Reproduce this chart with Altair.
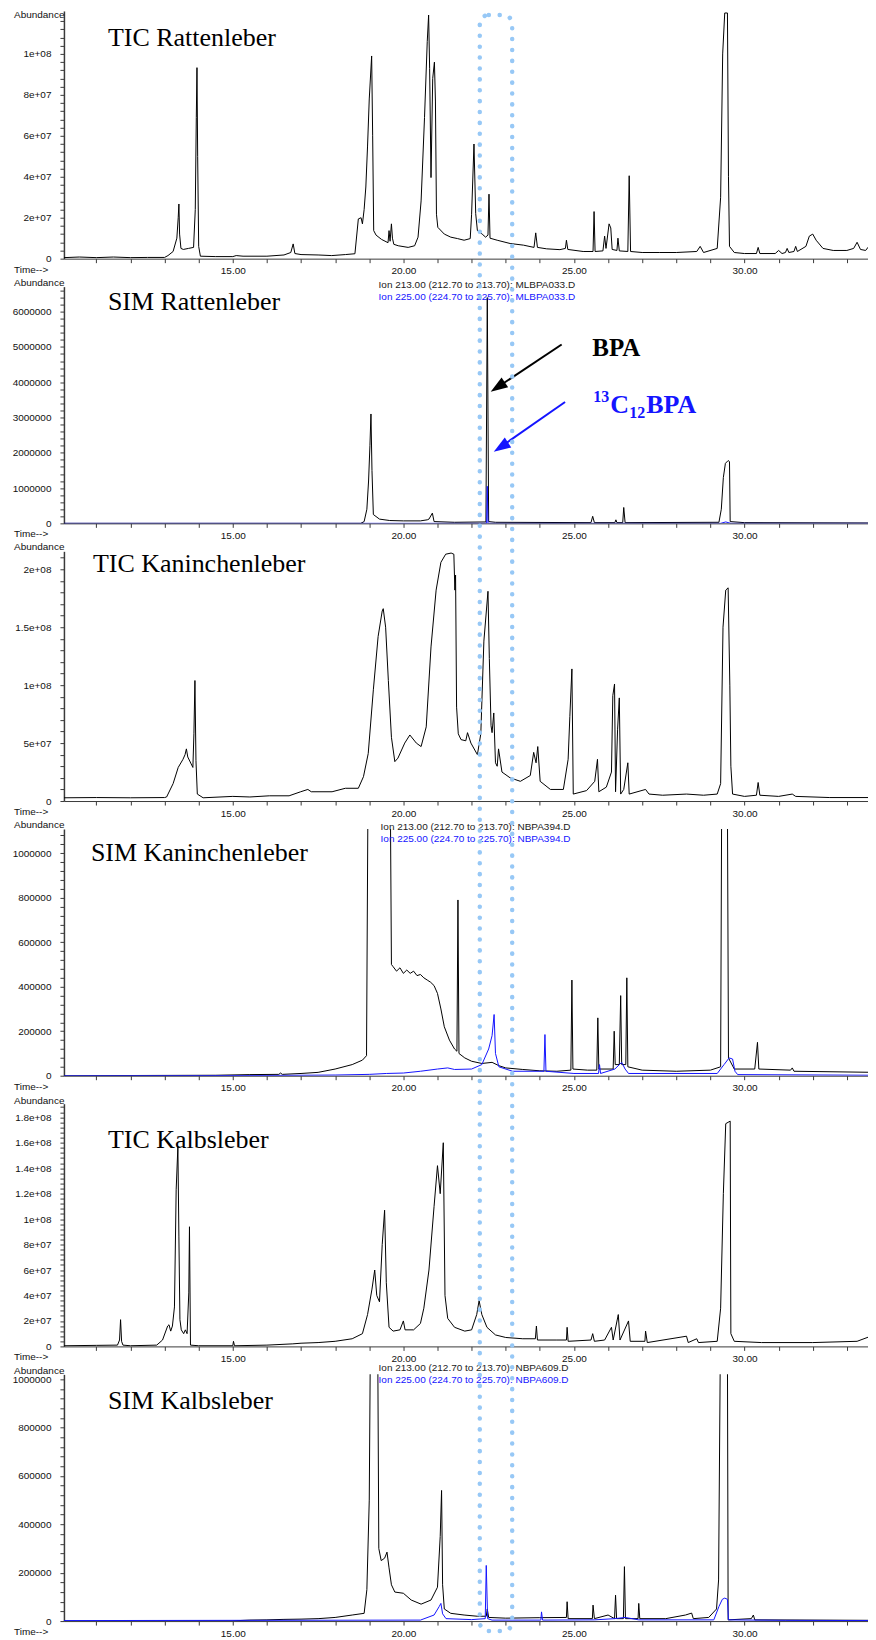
import altair as alt
import pandas as pd

# ---------------- data (time in min, abundance in panel units) ----------------
TIC_RATTE = [(10.05,0.05),(10.5,0.08),(11.0,0.05),(11.5,0.08),(12.0,0.05),(12.5,0.06),(13.0,0.06),(13.1,0.15),(13.25,0.35),(13.36,1.0),(13.40,2.0),(13.42,2.67),(13.44,1.2),(13.48,0.5),(13.55,0.45),(13.7,0.5),(13.85,0.55),(13.9,2.4),(13.93,6.9),(13.95,9.33),(13.97,5.0),(14.0,0.6),(14.05,0.12),(14.5,0.1),(15.0,0.1),(15.1,0.15),(15.3,0.12),(16.0,0.12),(16.5,0.18),(16.7,0.3),(16.77,0.72),(16.82,0.25),(17.0,0.2),(17.5,0.18),(17.9,0.15),(18.3,0.2),(18.58,0.24),(18.68,1.94),(18.76,2.0),(18.8,1.7),(18.85,2.4),(18.9,3.5),(18.95,5.5),(19.0,7.8),(19.07,9.9),(19.1,6.0),(19.13,1.37),(19.2,1.15),(19.36,0.94),(19.55,0.78),(19.58,1.37),(19.61,0.85),(19.65,1.7),(19.68,1.0),(19.72,0.7),(19.85,0.63),(20.14,0.55),(20.33,0.63),(20.43,1.05),(20.52,2.82),(20.62,6.9),(20.70,10.6),(20.74,11.9),(20.77,9.3),(20.81,3.96),(20.86,8.8),(20.91,9.6),(20.94,7.7),(20.97,2.17),(21.01,1.53),(21.2,1.2),(21.39,1.05),(21.59,0.98),(21.78,0.9),(21.96,0.98),(22.0,2.17),(22.07,5.6),(22.12,2.2),(22.17,1.37),(22.31,1.2),(22.41,1.05),(22.48,1.15),(22.51,3.15),(22.54,1.0),(22.75,0.9),(23.13,0.74),(23.52,0.66),(23.83,0.55),(23.88,1.26),(23.93,0.55),(24.2,0.48),(24.59,0.44),(24.75,0.5),(24.78,0.9),(24.82,0.45),(25.27,0.35),(25.56,0.35),(25.59,2.3),(25.62,0.35),(25.85,0.38),(25.9,1.1),(25.94,0.5),(26.03,1.7),(26.08,1.5),(26.12,0.45),(26.26,0.4),(26.29,1.0),(26.33,0.38),(26.58,0.35),(26.62,4.05),(26.66,0.35),(27.0,0.3),(27.5,0.3),(28.0,0.3),(28.6,0.35),(28.7,0.6),(28.8,0.3),(29.2,0.5),(29.3,3.0),(29.36,10.0),(29.42,12.0),(29.5,12.0),(29.53,4.0),(29.56,0.6),(29.7,0.3),(30.0,0.25),(30.35,0.25),(30.4,0.55),(30.45,0.25),(30.9,0.25),(31.0,0.4),(31.1,0.25),(31.2,0.3),(31.25,0.5),(31.3,0.3),(31.45,0.35),(31.5,0.6),(31.55,0.35),(31.8,0.6),(31.9,1.1),(32.0,1.2),(32.1,0.9),(32.3,0.5),(32.6,0.4),(33.0,0.4),(33.2,0.5),(33.3,0.8),(33.4,0.45),(33.55,0.4),(33.62,0.55),(33.7,0.4),(33.85,0.4)]

SIM_RATTE_213 = [(10.05,0.0),(18.75,0.0),(18.85,0.05),(18.93,0.4),(18.98,1.2),(19.02,2.2),(19.05,3.1),(19.08,1.5),(19.12,0.25),(19.3,0.12),(19.6,0.08),(20.0,0.07),(20.5,0.07),(20.7,0.1),(20.75,0.12),(20.85,0.29),(20.9,0.05),(21.5,0.03),(22.42,0.04),(22.46,6.4),(22.5,0.05),(22.7,0.03),(25.5,0.02),(25.55,0.2),(25.6,0.02),(26.2,0.02),(26.23,0.1),(26.26,0.02),(26.43,0.02),(26.46,0.45),(26.5,0.02),(29.25,0.03),(29.32,0.4),(29.38,1.3),(29.44,1.7),(29.52,1.78),(29.56,1.75),(29.58,0.05),(30.0,0.02),(33.85,0.01)]
SIM_RATTE_225 = [(10.05,0.0),(22.44,0.0),(22.46,1.05),(22.48,0.0),(29.3,0.0),(29.45,0.04),(29.6,0.0),(33.85,0.0)]

TIC_KANIN = [(10.05,0.28),(11.0,0.3),(12.0,0.28),(13.0,0.3),(13.06,0.35),(13.25,1.5),(13.4,2.9),(13.54,3.6),(13.6,4.0),(13.64,4.5),(13.68,3.8),(13.78,3.2),(13.83,2.9),(13.86,5.8),(13.89,10.4),(13.92,3.5),(13.96,0.6),(14.13,0.28),(15.0,0.4),(15.5,0.35),(16.07,0.45),(16.65,0.45),(16.99,0.8),(17.2,1.0),(17.3,0.8),(17.91,0.8),(18.3,1.1),(18.68,1.1),(18.83,2.1),(18.97,4.1),(19.12,9.6),(19.26,14.2),(19.38,16.4),(19.41,16.6),(19.48,15.0),(19.56,10.4),(19.65,5.5),(19.75,3.4),(19.84,3.7),(20.04,5.0),(20.19,5.7),(20.38,5.0),(20.52,4.7),(20.67,6.4),(20.81,13.3),(20.96,18.2),(21.1,20.6),(21.24,21.3),(21.4,21.4),(21.48,21.3),(21.51,18.2),(21.53,19.5),(21.56,8.1),(21.61,5.8),(21.69,5.3),(21.83,5.2),(21.88,5.9),(21.98,5.0),(22.17,4.0),(22.27,5.8),(22.36,13.8),(22.48,18.1),(22.52,12.3),(22.57,6.5),(22.6,5.9),(22.65,7.6),(22.7,3.3),(22.75,3.0),(22.79,4.5),(22.89,2.5),(23.13,2.0),(23.43,1.7),(23.72,2.2),(23.82,4.2),(23.89,3.3),(23.94,4.7),(24.01,1.7),(24.31,1.0),(24.69,1.0),(24.83,3.6),(24.88,7.3),(24.94,11.4),(24.98,0.6),(25.37,0.9),(25.61,1.7),(25.69,3.6),(25.73,0.8),(25.95,1.2),(26.1,2.5),(26.14,9.1),(26.19,10.1),(26.22,0.8),(26.28,6.2),(26.33,8.9),(26.37,0.6),(26.46,1.0),(26.58,3.3),(26.62,0.6),(27.1,1.0),(27.2,0.6),(27.6,0.5),(28.3,0.6),(28.8,0.5),(29.2,0.6),(29.3,1.5),(29.37,15.0),(29.45,18.2),(29.52,18.4),(29.57,10.0),(29.6,3.0),(29.65,0.6),(30.0,0.4),(30.35,0.5),(30.4,1.6),(30.45,0.5),(31.0,0.4),(31.4,0.6),(31.5,0.4),(32.5,0.3),(33.85,0.3)]

SIM_KANIN_213 = [(10.05,0.0),(14.5,0.02),(15.5,0.05),(16.35,0.06),(16.4,0.12),(16.45,0.06),(17.0,0.1),(17.5,0.15),(18.0,0.3),(18.5,0.5),(18.8,0.7),(18.92,0.9),(18.96,12.0),(19.62,12.0),(19.65,5.0),(19.7,4.9),(19.8,4.7),(19.9,4.85),(20.0,4.6),(20.1,4.75),(20.2,4.6),(20.3,4.7),(20.4,4.5),(20.5,4.55),(20.6,4.4),(20.7,4.3),(20.8,4.2),(20.9,4.05),(21.0,3.7),(21.1,3.0),(21.2,2.2),(21.35,1.6),(21.5,1.2),(21.57,1.1),(21.6,7.9),(21.63,1.0),(21.8,0.8),(22.0,0.65),(22.3,0.55),(22.6,0.6),(22.8,0.45),(23.0,0.35),(23.5,0.28),(24.0,0.22),(24.5,0.2),(24.91,0.25),(24.94,4.3),(24.97,0.3),(25.4,0.25),(25.67,0.25),(25.7,2.6),(25.73,0.3),(26.15,0.3),(26.18,2.0),(26.21,0.5),(26.33,0.5),(26.37,3.6),(26.4,0.5),(26.52,0.5),(26.55,4.4),(26.58,0.4),(27.0,0.25),(28.0,0.2),(29.0,0.25),(29.3,0.4),(29.33,12.0),(29.5,12.0),(29.53,0.8),(29.7,0.3),(30.3,0.3),(30.38,1.5),(30.42,0.3),(31.35,0.25),(31.4,0.35),(31.45,0.2),(33.85,0.15)]
SIM_KANIN_225 = [(10.05,0.0),(16.0,0.01),(18.0,0.03),(19.0,0.06),(19.5,0.1),(20.0,0.12),(20.5,0.2),(21.0,0.3),(21.3,0.35),(21.5,0.28),(22.0,0.3),(22.3,0.5),(22.5,1.2),(22.6,1.8),(22.66,2.75),(22.7,1.0),(22.8,0.4),(23.2,0.2),(24.12,0.2),(24.15,1.85),(24.18,0.2),(25.0,0.1),(25.72,0.1),(25.75,0.5),(25.78,0.1),(26.2,0.3),(26.4,0.6),(26.5,0.3),(26.6,0.1),(29.2,0.1),(29.4,0.5),(29.55,0.8),(29.65,0.75),(29.72,0.2),(29.8,0.05),(33.85,0.02)]

TIC_KALB = [(10.05,0.05),(11.0,0.08),(11.62,0.1),(11.68,0.5),(11.71,2.1),(11.74,0.4),(11.78,0.1),(12.0,0.05),(12.77,0.1),(12.94,0.5),(13.09,1.6),(13.13,1.7),(13.18,1.2),(13.23,1.6),(13.29,3.1),(13.34,12.3),(13.39,15.7),(13.42,8.6),(13.45,2.1),(13.49,1.3),(13.56,1.0),(13.61,1.3),(13.66,1.0),(13.71,4.2),(13.73,9.4),(13.76,0.1),(14.0,0.05),(15.0,0.05),(15.02,0.4),(15.05,0.05),(16.0,0.1),(16.76,0.2),(17.0,0.25),(17.5,0.3),(18.0,0.4),(18.5,0.6),(18.8,1.0),(18.95,2.5),(19.08,4.5),(19.16,6.0),(19.22,4.0),(19.3,3.5),(19.38,8.0),(19.45,10.7),(19.5,5.0),(19.58,1.5),(19.7,1.2),(19.9,1.3),(20.0,2.0),(20.05,1.3),(20.3,1.3),(20.5,1.8),(20.6,3.0),(20.75,6.0),(20.9,11.0),(21.0,14.2),(21.08,12.0),(21.17,16.0),(21.22,4.0),(21.3,2.2),(21.5,1.5),(21.8,1.2),(22.0,1.3),(22.15,2.5),(22.22,3.6),(22.3,2.5),(22.45,1.5),(22.7,0.9),(23.0,0.7),(23.5,0.6),(23.87,0.6),(23.9,1.6),(23.93,0.5),(24.5,0.5),(24.78,0.5),(24.8,1.5),(24.83,0.4),(25.5,0.5),(25.55,1.0),(25.6,0.4),(25.9,0.5),(26.1,1.5),(26.15,0.5),(26.3,2.5),(26.35,0.5),(26.6,2.0),(26.65,0.4),(27.08,0.4),(27.1,1.2),(27.15,0.3),(28.3,0.8),(28.35,0.3),(28.6,0.6),(28.65,0.3),(29.2,0.4),(29.3,3.0),(29.38,12.0),(29.45,17.5),(29.58,17.7),(29.6,1.0),(29.7,0.4),(30.5,0.3),(32.0,0.3),(33.3,0.4),(33.7,0.8),(33.85,0.8)]

SIM_KALB_213 = [(10.05,0.0),(15.0,0.01),(15.5,0.04),(16.0,0.05),(16.5,0.07),(17.0,0.08),(17.5,0.1),(18.0,0.15),(18.5,0.25),(18.85,0.32),(18.93,1.3),(19.0,5.0),(19.03,11.0),(19.25,11.0),(19.28,3.0),(19.35,2.5),(19.45,2.6),(19.52,2.85),(19.58,2.2),(19.65,1.5),(19.75,1.2),(20.0,1.15),(20.23,0.87),(20.52,0.7),(20.81,0.87),(21.0,1.4),(21.08,3.5),(21.12,5.4),(21.15,1.5),(21.2,0.5),(21.39,0.32),(21.78,0.25),(22.17,0.2),(22.43,0.2),(22.46,0.5),(22.5,0.15),(23.0,0.12),(24.0,0.14),(24.78,0.15),(24.8,0.8),(24.83,0.1),(25.54,0.1),(25.56,0.66),(25.6,0.1),(26.0,0.25),(26.19,0.1),(26.22,1.07),(26.25,0.1),(26.45,0.1),(26.48,2.25),(26.51,0.1),(26.88,0.1),(26.9,0.73),(26.93,0.1),(27.69,0.1),(28.27,0.25),(28.45,0.33),(28.5,0.1),(28.95,0.15),(29.18,0.5),(29.24,1.7),(29.29,11.0),(29.5,11.0),(29.52,0.05),(30.2,0.1),(30.26,0.25),(30.3,0.05),(33.85,0.03)]
SIM_KALB_225 = [(10.05,0.02),(20.5,0.04),(20.9,0.25),(21.05,0.6),(21.1,0.73),(21.15,0.3),(21.25,0.1),(22.0,0.06),(22.4,0.1),(22.43,2.3),(22.47,0.1),(22.6,0.04),(24.03,0.04),(24.05,0.38),(24.08,0.04),(25.6,0.05),(26.2,0.1),(26.5,0.15),(26.9,0.05),(29.1,0.05),(29.25,0.6),(29.35,0.9),(29.42,0.95),(29.5,0.9),(29.53,0.05),(31.2,0.03),(33.85,0.02)]

X_TICKS = list(range(11, 34))
BOX_T = [22.24, 23.19]           # dotted box around BPA retention time
BPA_ARROW = [(24.64, 5.07e6), (22.56, 3.73e6)]    # start, tip
C13_ARROW = [(24.74, 3.44e6), (22.65, 2.03e6)]

# ---------------- layout ----------------
X_DOM = [10.05, 33.62]
PLOT_W = 805
GAP = 28
AX_X = 63          # page x of the y axis
BLACK = "#000000"
BLUE = "#1414ff"
DOT = "#97c8f6"

PANELS = [
    dict(title="TIC Rattenleber", h=248, ymax=1.21e8, unit=1e7, major=20000000, minor=4000000, ttop=118000000, sci=True,
         traces=[(TIC_RATTE, BLACK)], title_xy=(107, 45), abund_y=14, ion=None),
    dict(title="SIM Rattenleber", h=237, ymax=6.71e6, unit=1e6, major=1000000, minor=200000, ttop=6600000, sci=False,
         traces=[(SIM_RATTE_213, BLACK), (SIM_RATTE_225, BLUE)], title_xy=(107, 309), abund_y=282, ion=("MLBPA033.D", 378, 284)),
    dict(title="TIC Kaninchenleber", h=250, ymax=2.155e8, unit=1e7, major=50000000, minor=10000000, ttop=210000000, sci=True,
         traces=[(TIC_KANIN, BLACK)], title_xy=(92, 572), abund_y=547, ion=None),
    dict(title="SIM Kaninchenleber", h=247, ymax=1.109e6, unit=1e5, major=200000, minor=40000, ttop=1080000, sci=False,
         traces=[(SIM_KANIN_213, BLACK), (SIM_KANIN_225, BLUE)], title_xy=(90, 861), abund_y=825, ion=("NBPA394.D", 380, 827)),
    dict(title="TIC Kalbsleber", h=243, ymax=1.907e8, unit=1e7, major=20000000, minor=4000000, ttop=188000000, sci=True,
         traces=[(TIC_KALB, BLACK)], title_xy=(107, 1148), abund_y=1101, ion=None),
    dict(title="SIM Kalbsleber", h=247, ymax=1.02e6, unit=1e5, major=200000, minor=40000, ttop=1000000, sci=False,
         traces=[(SIM_KALB_213, BLACK), (SIM_KALB_225, BLUE)], title_xy=(107, 1410), abund_y=1372, ion=("NBPA609.D", 378, 1369)),
]

tops = []
cur = 10
for p in PANELS:
    tops.append(cur)
    cur += p["h"] + GAP

SANS = "Liberation Sans"
SERIF = "Liberation Serif"
AXC = "#3a3a3a"


def txt(s, x, y, size=10, color="#111", font=SANS, weight="normal", align="left", baseline="middle"):
    return alt.Chart(pd.DataFrame({"s": [s]})).mark_text(
        font=font, fontSize=size, color=color, fontWeight=weight, align=align, baseline=baseline
    ).encode(text="s:N", x=alt.value(x), y=alt.value(y))


def y_axis(p):
    major = p["major"]
    vals = list(range(0, p["ttop"] + 1, p["minor"]))
    if p["sci"]:
        e = "floor(log(datum.value) / LN10 + 1e-9)"
        expr = (f"datum.value === 0 ? '0' : (datum.value % {major} === 0 ? "
                f"format(datum.value / pow(10, {e}), '~g') + 'e+0' + {e} : '')")
    else:
        expr = f"datum.value % {major} === 0 ? format(datum.value, 'd') : ''"
    return alt.Axis(values=vals, labelExpr=expr, title=None, grid=False, labelOverlap=False,
                    tickSize=4, labelPadding=9, labelFont=SANS, labelFontSize=10, labelColor="#111",
                    domainColor=AXC, tickColor=AXC, domainWidth=1.5, tickWidth=1)


X_AXIS = alt.Axis(values=X_TICKS, title=None, grid=False, labelOverlap=False,
                  labelExpr="datum.value % 5 === 0 ? format(datum.value, '.2f') : ''",
                  tickSize=4, labelPadding=3, labelFont=SANS, labelFontSize=10, labelColor="#111",
                  domainColor=AXC, tickColor=AXC, labelFlush=False)


def panel(i, p):
    top = tops[i]
    xs = alt.Scale(domain=X_DOM, nice=False, zero=False)
    ys = alt.Scale(domain=[0, p["ymax"]], nice=False)
    yax = y_axis(p)
    X = lambda f="t:Q": alt.X(f, scale=xs, axis=X_AXIS)
    Y = lambda f="v:Q": alt.Y(f, scale=ys, axis=yax)
    layers = []
    for pts, col in p["traces"]:
        df = pd.DataFrame({"t": [a for a, b in pts], "v": [b * p["unit"] for a, b in pts]})
        layers.append(alt.Chart(df).mark_line(color=col, strokeWidth=1, clip=True).encode(x=X(), y=Y()))
    tx, ty = p["title_xy"]
    layers.append(txt(p["title"], tx - AX_X, ty - top, size=26, color="#000", font=SERIF, baseline="alphabetic"))
    layers.append(txt("Abundance", -50, p["abund_y"] - top))
    layers.append(txt("Time-->", -50, p["h"] + 11))
    if p["ion"]:
        fname, ix, iy = p["ion"]
        layers.append(txt(f"Ion 213.00 (212.70 to 213.70): {fname}", ix - AX_X, iy - top, color="#222"))
        layers.append(txt(f"Ion 225.00 (224.70 to 225.70): {fname}", ix - AX_X, iy + 12 - top, color=BLUE))
    if i == 1:
        for (s, tip), col, ang in [(BPA_ARROW, BLACK, 236.5), (C13_ARROW, BLUE, 237)]:
            end = (tip[0] + 0.1 * (s[0] - tip[0]), tip[1] + 0.1 * (s[1] - tip[1]))
            adf = pd.DataFrame({"t": [s[0]], "v": [s[1]], "t2": [end[0]], "v2": [end[1]]})
            layers.append(alt.Chart(adf).mark_rule(color=col, strokeWidth=2).encode(
                x=X(), y=Y(), x2="t2:Q", y2="v2:Q"))
            hdf = pd.DataFrame({"t": [tip[0]], "v": [tip[1]]})
            layers.append(alt.Chart(hdf).mark_point(shape="M0,0L0.7,2L-0.7,2Z", filled=True, size=289,
                                                     angle=ang, color=col, opacity=1).encode(x=X(), y=Y()))
        layers.append(txt("BPA", 592 - AX_X, 355 - top, size=25, color="#000", font=SERIF, weight="bold", baseline="alphabetic"))
        layers.append(txt("13", 593 - AX_X, 402 - top, size=16, color=BLUE, font=SERIF, weight="bold", baseline="alphabetic"))
        layers.append(txt("C", 610 - AX_X, 413 - top, size=26, color=BLUE, font=SERIF, weight="bold", baseline="alphabetic"))
        layers.append(txt("12", 629 - AX_X, 418 - top, size=16, color=BLUE, font=SERIF, weight="bold", baseline="alphabetic"))
        layers.append(txt("BPA", 646 - AX_X, 413 - top, size=26, color=BLUE, font=SERIF, weight="bold", baseline="alphabetic"))
    if i == len(PANELS) - 1:
        bdf = pd.DataFrame({"t": [BOX_T[0]], "t2": [BOX_T[1]]})
        layers.append(alt.Chart(bdf).mark_rect(fill="white", fillOpacity=0, stroke=DOT, strokeWidth=4.5,
                                               strokeDash=[0.1, 10.8], strokeCap="round", cornerRadius=9).encode(
            x=X(), x2="t2:Q", y=alt.value(14 - top), y2=alt.value(1632 - top)))
    return alt.layer(*layers).properties(width=PLOT_W, height=p["h"])


chart = alt.vconcat(*[panel(i, p) for i, p in enumerate(PANELS)], spacing=GAP, bounds="flush").resolve_scale(
    x="independent", y="independent"
).properties(
    padding={"left": 4, "top": 1, "right": 0, "bottom": 0}
).configure_view(stroke=None)

chart.save("out.html", embed_options={"renderer": "svg", "actions": False})
